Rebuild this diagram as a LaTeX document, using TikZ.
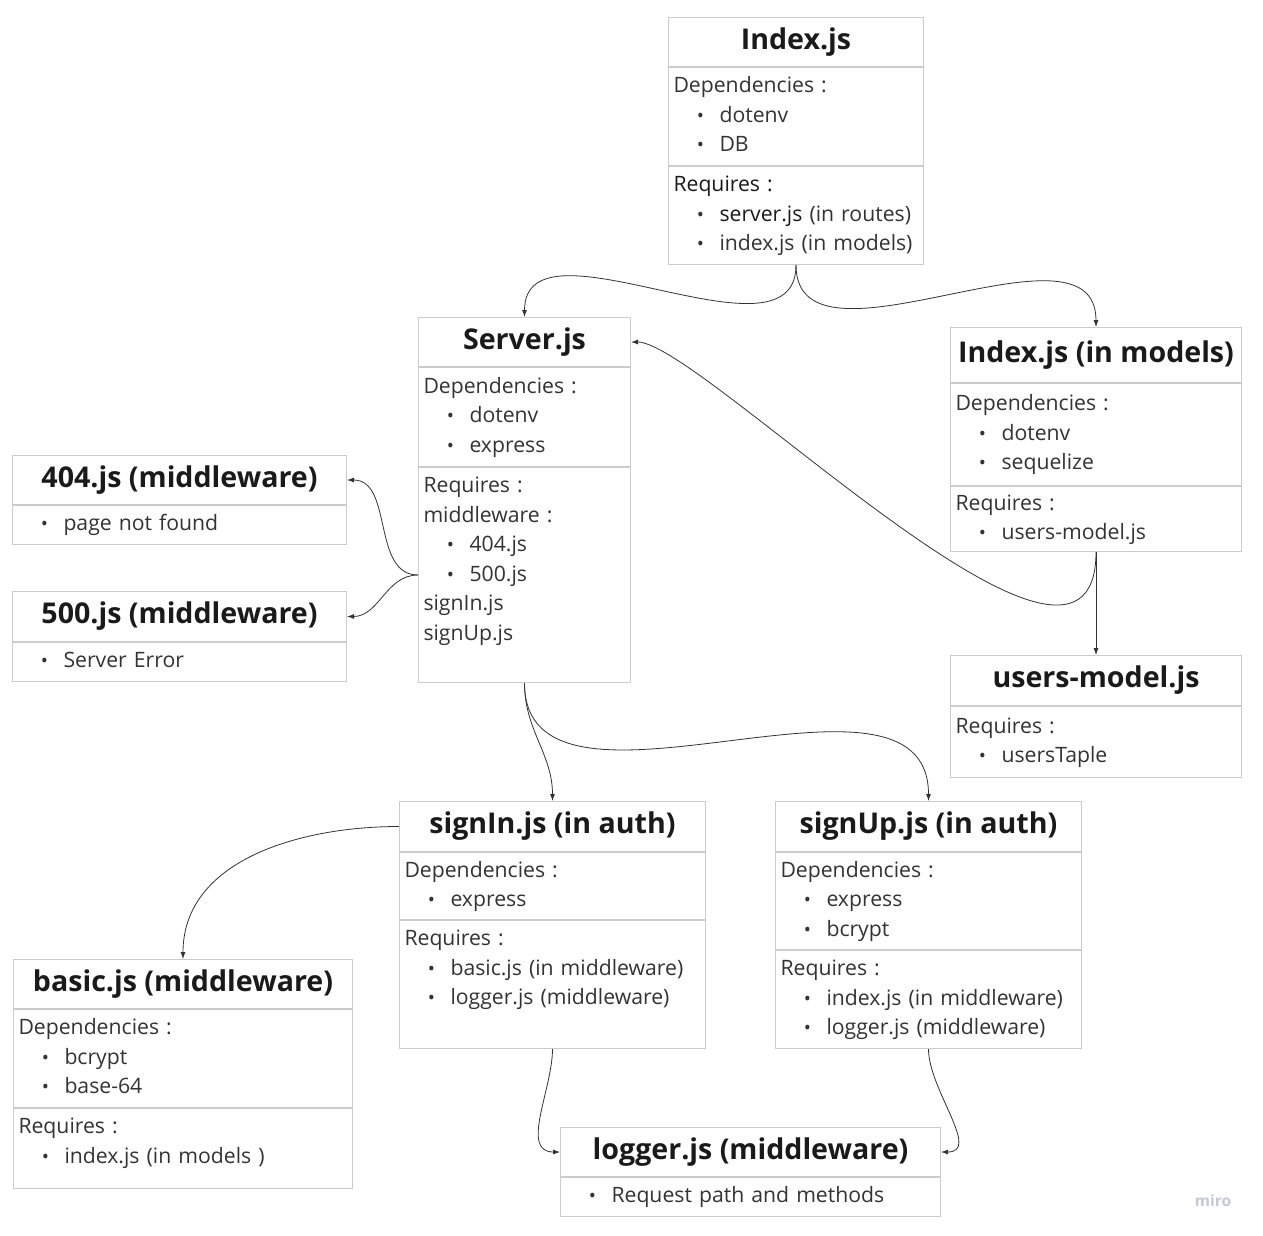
\documentclass[tikz,border=0pt]{standalone}
\usepackage{fontspec}
\setmainfont{Open Sans}
\usetikzlibrary{positioning,arrows.meta}
\usepackage{xcolor}
\definecolor{boxline}{HTML}{CCCCCC}
\definecolor{bodytext}{HTML}{333333}
\definecolor{titletext}{HTML}{1A1A1A}
\definecolor{linkline}{HTML}{333333}
\definecolor{wmark}{HTML}{C6C8D2}
\newcommand{\bul}{\hspace*{27pt}\makebox[0pt]{\scalebox{0.9}{\textbullet}}\hspace{19pt}}

\begin{document}
\begin{tikzpicture}[
    x=1pt, y=1pt,
    ttl/.style ={
        draw=boxline,
        line width=1pt,
        anchor=north west,
        minimum height=49pt,
        inner sep=0pt,
        font=\fontsize{28.6}{34}\selectfont\bfseries,
        text=titletext
    },
    sec/.style ={
        draw=boxline,
        line width=1pt,
        anchor=north west,
        inner xsep=5pt,
        inner ysep=0pt,
        align=left,
        font=\fontsize{21.2}{29.5}\selectfont,
        text=bodytext,
        execute at begin node=\strut,
        execute at end node=\strut
    },
    link/.style ={
        draw=linkline,
        line width=0.8pt,
        -{Latex[length=7pt,width=5pt]}
    }
    ]
    \fill[white] (0,0) rectangle (1263,-1236);
    \useasboundingbox (0,0) rectangle (1263,-1236);

    % Index.js
    \node[ttl, minimum width=255pt] (idx) at (668,-17) {Index.js};
    \node[sec, text width=245pt, minimum height=98pt] (idxdep) at (idx.south west)
        {Dependencies :\\ \bul dotenv\\ \bul DB};
    \node[sec, text width=245pt, minimum height=98pt] (idxreq) at (idxdep.south west)
        {\textcolor{titletext}{Requires :}\\ \bul \textcolor{titletext}{server.js} (in routes)\\ \bul index.js (in models)};

    % Server.js
    \node[ttl, minimum width=212pt] (srv) at (418,-317) {Server.js};
    \node[sec, text width=202pt, minimum height=99pt] (srvdep) at (srv.south west)
        {Dependencies :\\ \bul dotenv\\ \bul express};
    \node[sec, text width=202pt, minimum height=215pt] (srvreq) at (srvdep.south west)
        {Requires :\\ middleware :\\ \bul 404.js\\ \bul 500.js\\ signIn.js\\ signUp.js\rule[-37.35pt]{0pt}{1pt}};

    % Index.js (in models)
    \node[ttl, minimum width=291pt, minimum height=55pt] (mdl) at (950,-327) {Index.js (in models)};
    \node[sec, text width=281pt, minimum height=102pt] (mdldep) at (mdl.south west)
        {Dependencies :\\ \bul dotenv\\ \bul sequelize};
    \node[sec, text width=281pt, minimum height=65pt] (mdlreq) at (mdldep.south west)
        {Requires :\\ \bul users-model.js};

    % users-model.js
    \node[ttl, minimum width=291pt, minimum height=50pt] (usr) at (950,-655) {users-model.js};
    \node[sec, text width=281pt, minimum height=71pt] (usrreq) at (usr.south west)
        {Requires :\\ \bul usersTaple};

    % 404.js and 500.js
    \node[ttl, minimum width=334pt] (nf) at (12,-455) {404.js (middleware)};
    \node[sec, text width=324pt, minimum height=39pt] (nfbody) at (nf.south west)
        {\bul page not found};
    \node[ttl, minimum width=334pt, minimum height=50pt] (se) at (12,-591) {500.js (middleware)};
    \node[sec, text width=324pt, minimum height=39pt] (sebody) at (se.south west)
        {\bul Server Error};

    % signIn.js (in auth)
    \node[ttl, minimum width=306pt, minimum height=50pt] (sin) at (399,-801) {signIn.js (in auth)};
    \node[sec, text width=296pt, minimum height=67pt] (sindep) at (sin.south west)
        {Dependencies :\\ \bul express};
    \node[sec, text width=296pt, minimum height=128pt] (sinreq) at (sindep.south west)
        {Requires :\\ \bul basic.js (in middleware)\\ \bul logger.js (middleware)\rule[-38.85pt]{0pt}{1pt}};

    % signUp.js (in auth)
    \node[ttl, minimum width=306pt, minimum height=50pt] (sup) at (775,-801) {signUp.js (in auth)};
    \node[sec, text width=296pt, minimum height=97pt] (supdep) at (sup.south west)
        {Dependencies :\\ \bul express\\ \bul bcrypt};
    \node[sec, text width=296pt, minimum height=98pt] (supreq) at (supdep.south west)
        {Requires :\\ \bul index.js (in middleware)\\ \bul logger.js (middleware)};

    % basic.js (middleware)
    \node[ttl, minimum width=339pt] (bas) at (13,-959) {basic.js (middleware)};
    \node[sec, text width=329pt, minimum height=98pt] (basdep) at (bas.south west)
        {Dependencies :\\ \bul bcrypt\\ \bul base-64};
    \node[sec, text width=329pt, minimum height=80pt] (basreq) at (basdep.south west)
        {Requires :\\ \bul index.js (in models )\rule[-20.35pt]{0pt}{1pt}};

    % logger.js (middleware)
    \node[ttl, minimum width=380pt] (log) at (560,-1127) {logger.js (middleware)};
    \node[sec, text width=370pt, minimum height=39pt] (logbody) at (log.south west)
        {\bul Request path and methods};

    \node[font=\fontsize{15.5}{18}\selectfont\bfseries, text=wmark] (wm) at (1213,-1201) {miro};

    % connectors
    \draw[link] (idxreq.south) to[out=-90,in=90] (srv.north);
    \draw[link] (idxreq.south) to[out=-90,in=90] (mdl.north);
    \draw[link] (mdlreq.south) .. controls +(0,-195) and +(70,0) .. (srv.east);
    \draw[link] (mdlreq.south) -- (usr.north);
    \draw[link] (srvreq.west) to[out=180,in=0] (nf.east);
    \draw[link] (srvreq.west) to[out=180,in=0] (se.east);
    \draw[link] (srvreq.south) to[out=-90,in=90] (sin.north);
    \draw[link] (srvreq.south) to[out=-90,in=90] (sup.north);
    \draw[link] (sin.west) to[out=180,in=90] (bas.north);
    \draw[link] (sinreq.south) to[out=-90,in=180] (log.west);
    \draw[link] (supreq.south) to[out=-90,in=0] (log.east);
\end{tikzpicture}
\end{document}
